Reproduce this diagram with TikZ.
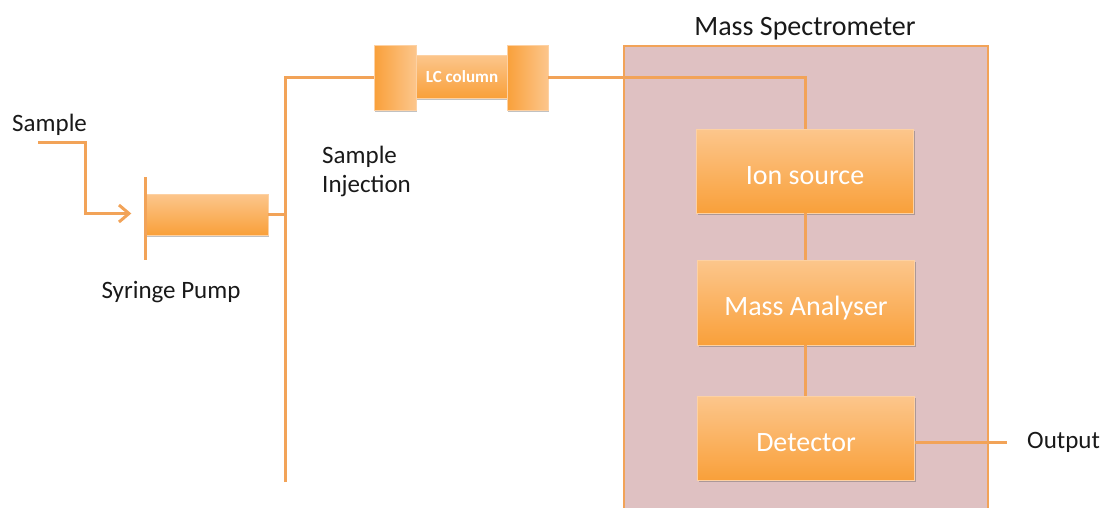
\documentclass[tikz,border=0pt]{standalone}
\usepackage{fontspec}
\setmainfont{Carlito}
\usetikzlibrary{arrows.meta,shadows}
\definecolor{lineor}{RGB}{242,163,88}
\definecolor{boxtop}{RGB}{252,198,140}
\definecolor{boxbot}{RGB}{249,160,58}
\definecolor{pinkfill}{RGB}{223,193,194}
\definecolor{txt}{RGB}{25,25,25}
\tikzset{
  conn/.style={draw=lineor, line width=3pt},
  obox/.style={rectangle, draw=boxtop!80!white, line width=0.6pt, top color=boxtop, bottom color=boxbot,
     drop shadow={shadow xshift=1pt, shadow yshift=-2pt, opacity=0.35, fill=black!70},
     text=white, inner sep=0pt},
  msbox/.style={rectangle, draw=lineor, line width=1.5pt, fill=pinkfill, inner sep=0pt},
  lbl/.style={text=txt, inner sep=0pt, font=\fontsize{25}{29}\selectfont},
  btxt/.style={font=\fontsize{28}{30}\selectfont, text height=26pt, text depth=0pt},
}
\begin{document}
\begin{tikzpicture}[x=1pt,y=-1pt]
\useasboundingbox (0,0) rectangle (1102,507);
% Mass spectrometer enclosure
\node[msbox, anchor=north west, minimum width=364pt, minimum height=480pt] (ms) at (623,45) {};
\node[text=txt, inner sep=0pt, font=\fontsize{28}{30}\selectfont] (title) at (805,28.5) {Mass Spectrometer};
% MS components
\node[obox, btxt, minimum width=217pt, minimum height=84pt] (ion) at (805,171) {Ion source};
\node[obox, btxt, minimum width=217pt, minimum height=85pt] (ma) at (806,302.5) {Mass Analyser};
\node[obox, btxt, minimum width=217pt, minimum height=84pt] (det) at (806,438) {Detector};
% LC column
\node[obox, minimum width=92pt, minimum height=43pt, font=\bfseries\fontsize{17}{19}\selectfont] (lct) at (462,76.5) {LC column};
\node[obox, minimum width=42pt, minimum height=65pt, left color=boxbot, right color=boxtop] (lcL) at (395,77.5) {};
\node[obox, minimum width=41pt, minimum height=65pt, left color=boxbot, right color=boxtop] (lcR) at (527.5,77.5) {};
% Syringe pump
\node[obox, minimum width=122pt, minimum height=41pt] (bar) at (207,214.5) {};
\node[rectangle, fill=lineor, inner sep=0pt, minimum width=3pt, minimum height=83pt] (pl) at (145,218.5) {};
% coordinates
\coordinate (vbot) at (285,482);
\coordinate (sin) at (38,142);
\coordinate (sbend) at (85,142);
\coordinate (oend) at (1007,442);
% connectors
\draw[conn] (lcR.east) -| (ion.north);
\draw[conn] (ion.south) -- (ion.south |- ma.north);
\draw[conn] (ma.south -| ion.south) -- (ion.south |- det.north);
\draw[conn] (vbot) |- (lcL.west);
\draw[conn] (bar.east) -- (bar.east -| vbot);
\draw[conn, -{Straight Barb[length=10pt,width=17pt,line width=3pt]}] (sin) -- (sbend) |- ([xshift=-12pt,yshift=5pt]pl.west);
\draw[conn] ([yshift=-4pt]det.east) -- (oend);
% labels
\node[lbl, anchor=west] (sample) at (12,125) {Sample};
\node[lbl] (sp) at (171,292) {Syringe Pump};
\node[lbl, align=left, anchor=west] (inj) at (322,171) {Sample\\Injection};
\node[lbl, anchor=west] (out) at (1027,442) {Output};
\end{tikzpicture}
\end{document}
